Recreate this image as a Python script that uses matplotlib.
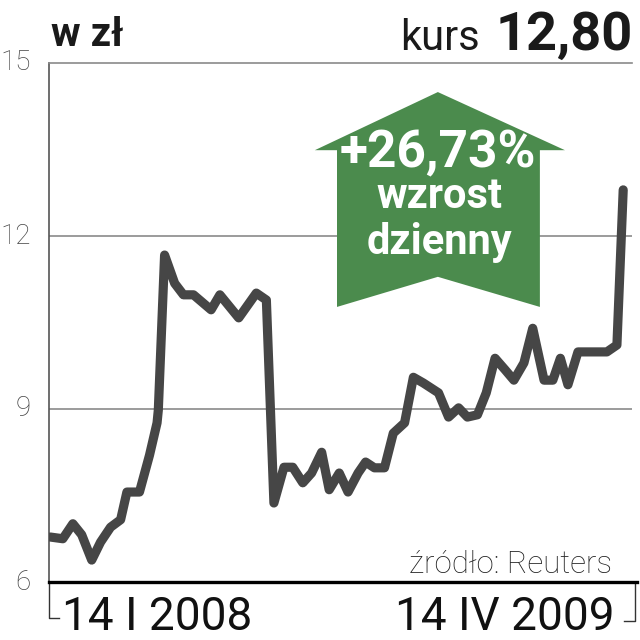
"""Kurs akcji: w zł, 14 I 2008 - 14 IV 2009."""

import matplotlib

matplotlib.use("Agg")

import matplotlib.pyplot as plt
from matplotlib.patches import Polygon

# days since 14 I 2008 and closing price in zł
days = [0, 10, 18, 25, 33, 40, 48, 56, 61, 71, 79, 85, 86, 91, 99, 106, 114,
        128, 135, 150, 164, 172, 178, 186, 193, 201, 208, 216, 222, 230, 237,
        245, 251, 258, 266, 273, 282, 289, 297, 309, 317, 325, 332, 340, 347,
        354, 362, 369, 377, 384, 393, 400, 406, 412, 420, 443, 451, 456]
price = [6.78, 6.75, 7.01, 6.82, 6.38, 6.69, 6.95, 7.08, 7.56, 7.56, 8.20,
         8.76, 8.98, 11.67, 11.18, 10.98, 10.98, 10.72, 10.98, 10.58, 11.01,
         10.89, 7.37, 7.99, 7.99, 7.72, 7.89, 8.25, 7.60, 7.89, 7.56, 7.89,
         8.08, 7.98, 7.98, 8.58, 8.76, 9.55, 9.45, 9.28, 8.86, 9.02, 8.86,
         8.90, 9.28, 9.88, 9.68, 9.50, 9.80, 10.40, 9.50, 9.50, 9.88, 9.42,
         9.99, 9.99, 10.11, 12.80]

y_ticks = [6, 9, 12, 15]
date_labels = ["14 I 2008", "14 IV 2009"]
change_text = "+26,73%"

FONT = ["Roboto", "DejaVu Sans"]
GREEN = "#4b8b4d"
LINE = "#464646"
GRID = "#8a8a8a"

fig = plt.figure(figsize=(6.4, 6.4), dpi=100)
ax = fig.add_axes([49 / 640, 1 - 582 / 640, 583 / 640, 519 / 640])

ax.plot(days, price, color=LINE, linewidth=6.6, solid_joinstyle="round",
        solid_capstyle="round", zorder=3)

ax.set_xlim(-1, 463)
ax.set_ylim(6, 15)
ax.set_yticks(y_ticks)
ax.set_yticklabels([str(t) for t in y_ticks], family=FONT, fontweight="light",
                   fontsize=20, color="#444444", va="center")
ax.tick_params(axis="y", length=0, pad=13)
ax.set_xticks([])

for v in y_ticks[1:-1]:
    ax.axhline(v, color=GRID, linewidth=1.2, zorder=1)
ax.spines["right"].set_visible(False)
ax.spines["top"].set_color(GRID)
ax.spines["top"].set_linewidth(1.2)
ax.spines["left"].set_color("#555555")
ax.spines["left"].set_linewidth(1.2)
ax.spines["bottom"].set_visible(False)
ax.plot([0, 1.009], [0, 0], transform=ax.transAxes, color="black",
        linewidth=2.4, clip_on=False, zorder=4)

# brackets at both ends of the time axis
ax.plot([0, 0, 0.017], [0, -0.07, -0.07], transform=ax.transAxes,
        color="#333333", linewidth=1.0, clip_on=False)
ax.plot([1.006, 1.006, 0.986], [0, -0.075, -0.075], transform=ax.transAxes,
        color="#333333", linewidth=1.0, clip_on=False)
ax.text(0.022, -0.025, date_labels[0], transform=ax.transAxes, ha="left",
        va="top", fontsize=33, family=FONT, color="#111111")
ax.text(0.97, -0.025, date_labels[1], transform=ax.transAxes, ha="right",
        va="top", fontsize=33, family=FONT, color="#111111")

# header
fig.text(51 / 640, 1 - 46 / 640, "w zł", fontsize=29, fontweight="bold",
         family=FONT, color="#1a1a1a", ha="left", va="baseline")
fig.text(633 / 640, 1 - 50 / 640, "12,80", fontsize=39, fontweight="bold",
         family=FONT, color="#1a1a1a", ha="right", va="baseline")
fig.text(480 / 640, 1 - 50 / 640, "kurs", fontsize=30, family=FONT,
         color="#1a1a1a", ha="right", va="baseline")

ax.text(0.966, 0.017, "źródło: Reuters", transform=ax.transAxes, ha="right",
        va="baseline", fontsize=22.5, family=FONT, fontweight="light",
        color="#222222")

# green arrow
arrow = Polygon([(0.667, 0.944), (0.885, 0.832), (0.842, 0.832),
                 (0.842, 0.530), (0.667, 0.588), (0.494, 0.530),
                 (0.494, 0.832), (0.456, 0.832)],
                closed=True, transform=ax.transAxes, facecolor=GREEN,
                edgecolor="none", zorder=5)
ax.add_patch(arrow)
ax.text(0.667, 0.826, change_text, transform=ax.transAxes, ha="center",
        va="center", fontsize=37, fontweight="bold", family=FONT,
        color="white", zorder=6)
ax.text(0.67, 0.742, "wzrost", transform=ax.transAxes, ha="center",
        va="center", fontsize=30, fontweight="bold", family=FONT,
        color="white", zorder=6)
ax.text(0.67, 0.655, "dzienny", transform=ax.transAxes, ha="center",
        va="center", fontsize=30, fontweight="bold", family=FONT,
        color="white", zorder=6)

fig.savefig("out.png", dpi=100)
